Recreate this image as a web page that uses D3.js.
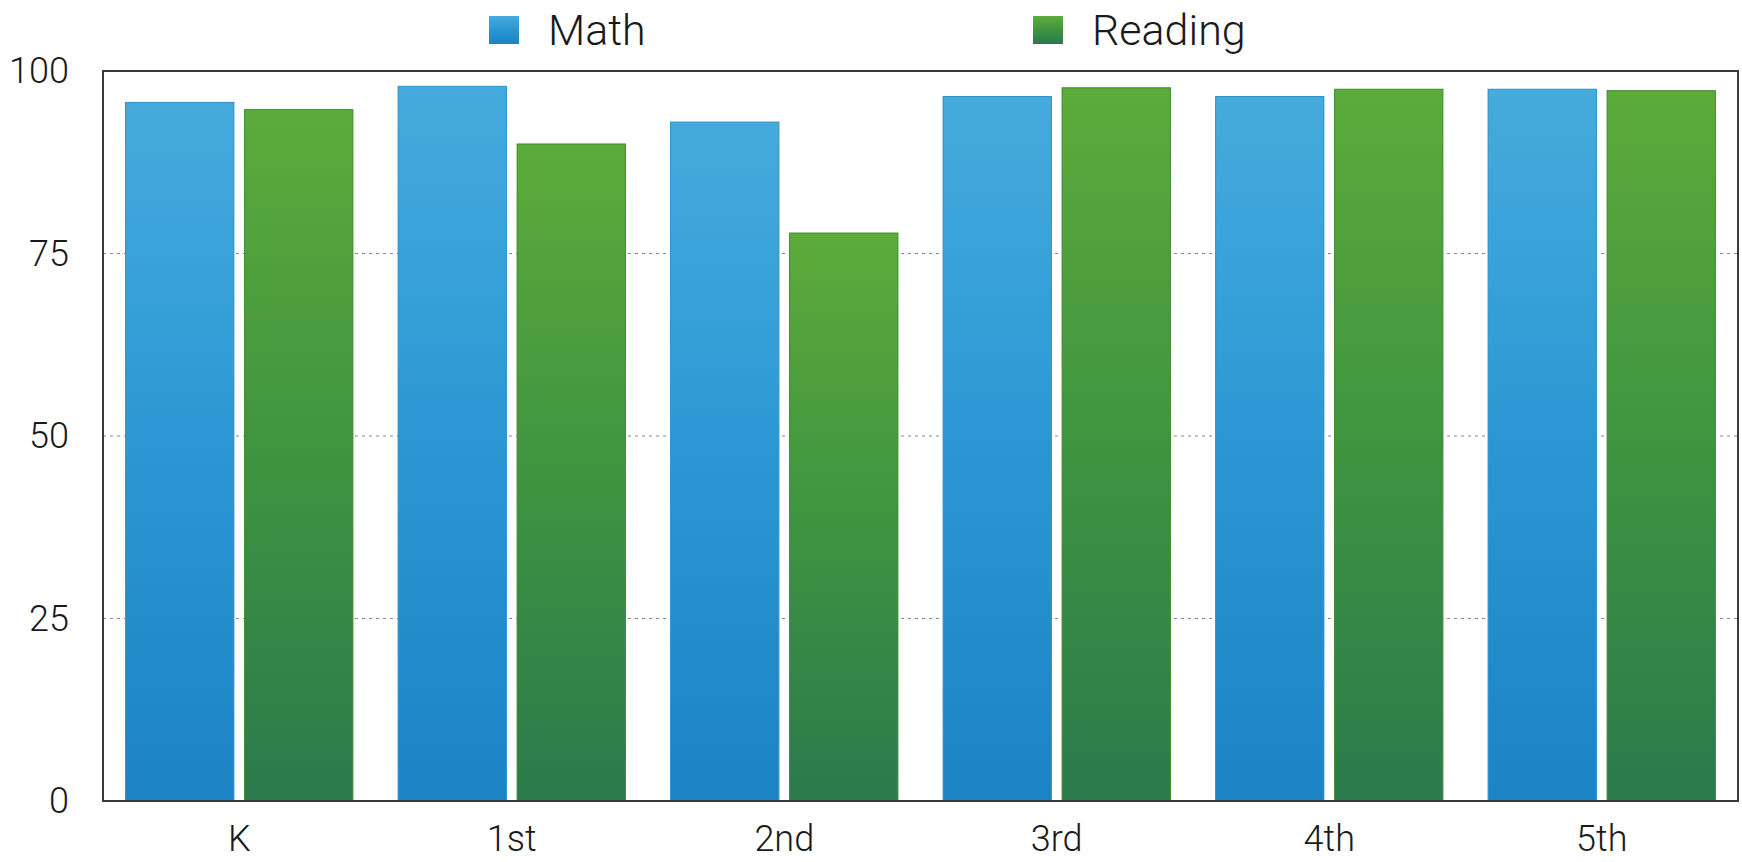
<html lang="en">
<head>
    <meta charset="utf-8">
    <title>Math and Reading by Grade</title>
    <script src="https://d3js.org/d3.v7.min.js"></script>
    <style>
        body { margin: 0; background: #fff; }
        text { font-family: Roboto, "Liberation Sans", sans-serif; font-weight: 300; fill: #1a1a1a; }
    </style>
</head>
<body>
<svg class="chart"></svg>
<script>
    'use strict';

    // data
    var grades = ["K", "1st", "2nd", "3rd", "4th", "5th"];
    var series = ["Math", "Reading"];
    var mathScores = [95.7, 97.9, 93.0, 96.5, 96.5, 97.5];
    var readingScores = [94.7, 90.0, 77.8, 97.7, 97.5, 97.3];
    var yTicks = [0, 25, 50, 75, 100];

    var rows = grades.map(function (g, i) {
        return {grade: g, Math: mathScores[i], Reading: readingScores[i]};
    });

    var W = 1742, H = 862;
    var margin = {top: 71, right: 4, bottom: 61, left: 103},
        width = W - margin.left - margin.right,
        height = H - margin.top - margin.bottom;

    var svg = d3.select(".chart").attr("width", W).attr("height", H);

    var defs = svg.append("defs");
    var grads = {
        Math: ["#45abdd", "#2a97d3", "#1c83c5"],
        Reading: ["#5cab3a", "#3f9440", "#2a7a4c"]
    };
    series.forEach(function (s) {
        var lg = defs.append("linearGradient")
            .attr("id", "grad-" + s)
            .attr("x1", 0).attr("y1", 0).attr("x2", 0).attr("y2", 1);
        grads[s].forEach(function (c, i) {
            lg.append("stop").attr("offset", (i / 2 * 100) + "%").attr("stop-color", c);
        });
    });
    var strokes = {Math: "#2b8fcc", Reading: "#3a8a2c"};

    var chart = svg.append("g")
        .attr("transform", "translate(" + margin.left + "," + margin.top + ")");

    var x0 = d3.scaleBand().domain(grades).range([0, width]);
    var x1 = d3.scaleBand().domain(series).range([0, x0.bandwidth()])
        .paddingInner(0.09).paddingOuter(0.19);
    var y = d3.scaleLinear().domain([0, 100]).range([height, 0]);

    // dotted grid
    chart.append("g")
        .selectAll("line")
        .data(yTicks.filter(function (t) { return t > 0 && t < 100; }))
        .enter().append("line")
        .attr("x1", 0).attr("x2", width)
        .attr("y1", function (d) { return y(d); })
        .attr("y2", function (d) { return y(d); })
        .attr("stroke", "#8a8a8a")
        .attr("stroke-width", 1.2)
        .attr("stroke-dasharray", "3,4");

    // bars
    var groups = chart.selectAll(".grade")
        .data(rows)
        .enter().append("g")
        .attr("class", "grade")
        .attr("transform", function (d) { return "translate(" + x0(d.grade) + ",0)"; });

    groups.selectAll("rect")
        .data(function (d) { return series.map(function (s) { return {key: s, value: d[s]}; }); })
        .enter().append("rect")
        .attr("x", function (d) { return x1(d.key); })
        .attr("width", x1.bandwidth())
        .attr("y", function (d) { return y(d.value); })
        .attr("height", function (d) { return height - y(d.value); })
        .attr("fill", function (d) { return "url(#grad-" + d.key + ")"; })
        .attr("stroke", function (d) { return strokes[d.key]; })
        .attr("stroke-width", 1);

    // frame
    chart.append("rect")
        .attr("x", 0).attr("y", 0)
        .attr("width", width).attr("height", height)
        .attr("fill", "none")
        .attr("stroke", "#3a3a3a")
        .attr("stroke-width", 2);

    // y labels
    var yAxis = d3.axisLeft(y).tickValues(yTicks).tickSize(0).tickPadding(34);
    var yg = chart.append("g").call(yAxis);
    yg.select(".domain").remove();
    yg.selectAll("text").style("font-size", "36px").attr("fill", "#1a1a1a");

    // x labels
    var xAxis = d3.axisBottom(x0).tickSize(0).tickPadding(24);
    var xg = chart.append("g").attr("transform", "translate(0," + height + ")").call(xAxis);
    xg.select(".domain").remove();
    xg.selectAll("text").style("font-size", "36px").attr("fill", "#1a1a1a");

    // legend
    var legendX = [489, 1033];
    var legend = svg.append("g");
    series.forEach(function (s, i) {
        var lg = legend.append("g").attr("transform", "translate(" + legendX[i] + ",16)");
        lg.append("rect")
            .attr("width", 30).attr("height", 28)
            .attr("fill", "url(#grad-" + s + ")");
        lg.append("text")
            .attr("x", 59).attr("y", 14)
            .attr("dy", "0.35em")
            .style("font-size", "43px")
            .text(s);
    });
</script>
</body>
</html>
